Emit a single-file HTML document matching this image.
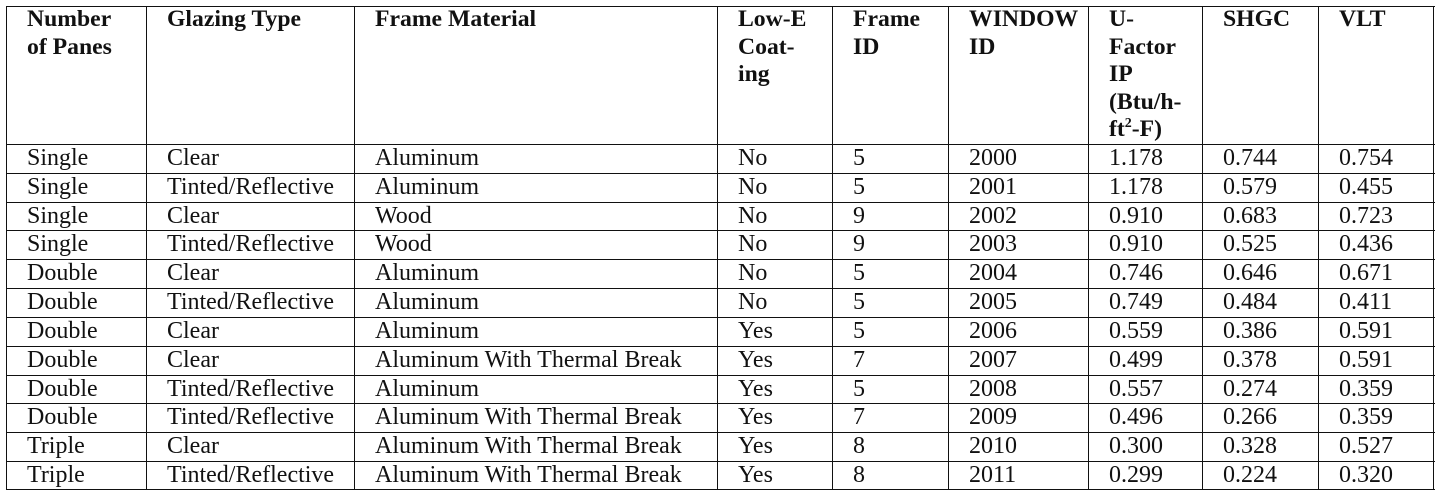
<!DOCTYPE html>
<html><head><meta charset="utf-8"><style>
html,body{margin:0;padding:0;background:#fff;width:1444px;height:499px;overflow:hidden;position:relative}
.c{position:absolute;font-family:"Liberation Serif",serif;color:#111;white-space:nowrap}
.h{font-weight:bold;font-size:23.7px;line-height:27.5px;top:6px}
.b{font-size:24px;line-height:28.83px}
.v{position:absolute;top:6px;width:1.3px;height:484px;background:#111}
.r{position:absolute;left:6px;width:1429px;height:1.3px;background:#111}
sup{font-size:14px;line-height:0}
</style></head><body>
<div class="v" style="left:6px"></div><div class="v" style="left:146px"></div><div class="v" style="left:354px"></div><div class="v" style="left:717px"></div><div class="v" style="left:832px"></div><div class="v" style="left:948px"></div><div class="v" style="left:1088px"></div><div class="v" style="left:1202px"></div><div class="v" style="left:1318px"></div><div class="v" style="left:1433px"></div>
<div class="r" style="top:6px"></div><div class="r" style="top:144px"></div><div class="r" style="top:173px"></div><div class="r" style="top:202px"></div><div class="r" style="top:230px"></div><div class="r" style="top:259px"></div><div class="r" style="top:288px"></div><div class="r" style="top:317px"></div><div class="r" style="top:346px"></div><div class="r" style="top:375px"></div><div class="r" style="top:403px"></div><div class="r" style="top:432px"></div><div class="r" style="top:461px"></div><div class="r" style="top:489px"></div>
<div class="c h" style="left:27px">Number<br>of Panes</div>
<div class="c h" style="left:167px">Glazing Type</div>
<div class="c h" style="left:375px">Frame Material</div>
<div class="c h" style="left:738px">Low-E<br>Coat-<br>ing</div>
<div class="c h" style="left:853px">Frame<br>ID</div>
<div class="c h" style="left:969px">WINDOW<br>ID</div>
<div class="c h" style="left:1109px">U-<br>Factor<br>IP<br>(Btu/h-<br>ft<sup>2</sup>-F)</div>
<div class="c h" style="left:1223px">SHGC</div>
<div class="c h" style="left:1339px">VLT</div>

<div class="c b" style="left:27px;top:144px">Single<br>Single<br>Single<br>Single<br>Double<br>Double<br>Double<br>Double<br>Double<br>Double<br>Triple<br>Triple</div>
<div class="c b" style="left:167px;top:144px">Clear<br>Tinted/Reflective<br>Clear<br>Tinted/Reflective<br>Clear<br>Tinted/Reflective<br>Clear<br>Clear<br>Tinted/Reflective<br>Tinted/Reflective<br>Clear<br>Tinted/Reflective</div>
<div class="c b" style="left:375px;top:144px">Aluminum<br>Aluminum<br>Wood<br>Wood<br>Aluminum<br>Aluminum<br>Aluminum<br>Aluminum With Thermal Break<br>Aluminum<br>Aluminum With Thermal Break<br>Aluminum With Thermal Break<br>Aluminum With Thermal Break</div>
<div class="c b" style="left:738px;top:144px">No<br>No<br>No<br>No<br>No<br>No<br>Yes<br>Yes<br>Yes<br>Yes<br>Yes<br>Yes</div>
<div class="c b" style="left:853px;top:144px">5<br>5<br>9<br>9<br>5<br>5<br>5<br>7<br>5<br>7<br>8<br>8</div>
<div class="c b" style="left:969px;top:144px">2000<br>2001<br>2002<br>2003<br>2004<br>2005<br>2006<br>2007<br>2008<br>2009<br>2010<br>2011</div>
<div class="c b" style="left:1109px;top:144px">1.178<br>1.178<br>0.910<br>0.910<br>0.746<br>0.749<br>0.559<br>0.499<br>0.557<br>0.496<br>0.300<br>0.299</div>
<div class="c b" style="left:1223px;top:144px">0.744<br>0.579<br>0.683<br>0.525<br>0.646<br>0.484<br>0.386<br>0.378<br>0.274<br>0.266<br>0.328<br>0.224</div>
<div class="c b" style="left:1339px;top:144px">0.754<br>0.455<br>0.723<br>0.436<br>0.671<br>0.411<br>0.591<br>0.591<br>0.359<br>0.359<br>0.527<br>0.320</div>
</body></html>
